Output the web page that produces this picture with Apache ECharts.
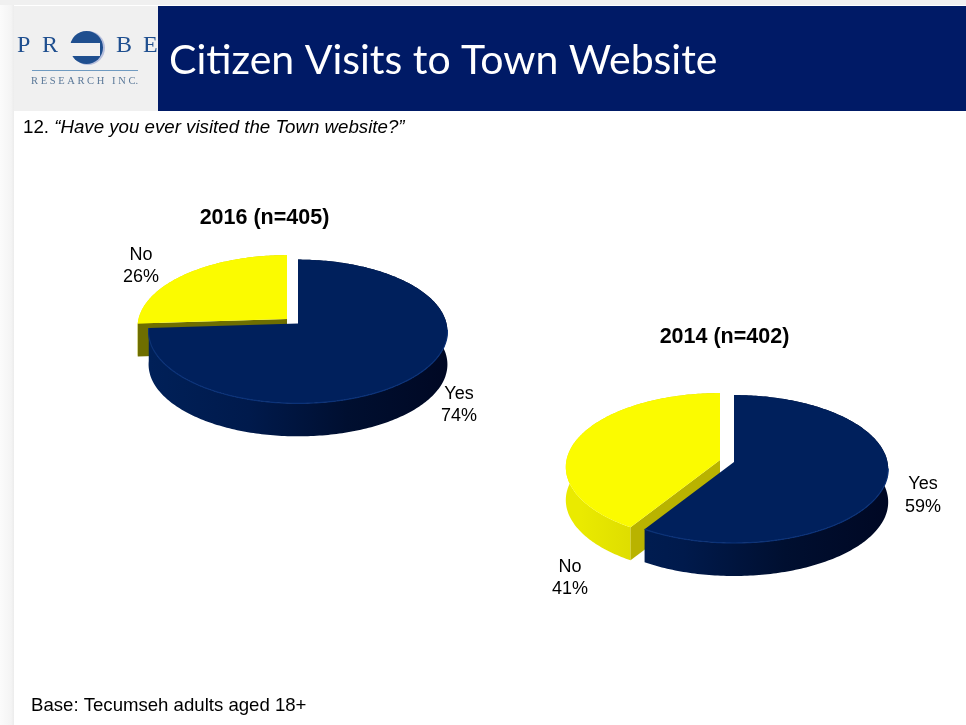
<!DOCTYPE html>
<html>
<head>
<meta charset="utf-8">
<style>html,body{margin:0;padding:0;background:#fff}#c{width:966px;height:725px}</style>
<script src="https://cdn.jsdelivr.net/npm/echarts@6/dist/echarts.min.js"></script>
</head>
<body>
<div id="c"></div>
<script>
var categories = ['Yes', 'No'];
var values2016 = [74, 26];
var values2014 = [59, 41];
var pieTitles = ['2016 (n=405)', '2014 (n=402)'];
var pageTitle = 'Citizen Visits to Town Website';
var question = '12. ';
var questionText = '\u201CHave you ever visited the Town website?\u201D';
var baseNote = 'Base: Tecumseh adults aged 18+';

var NAVY = '#00205c', YELLOW = '#fbfb00';
var pies = [
  { values: values2016, cx: 298, cy: 323.5, rx: 148.5, ry: 71, k: 0.111, depth: 33,
    shift: [[0, 0], [-11, -4.5]], innerWall: '#6e6e00',
    labels: [[459, 405], [141, 266]], titleX: 259.5, titleY: 213 },
  { values: values2014, cx: 734, cy: 462, rx: 153.5, ry: 73.3, k: 0.095, depth: 33,
    shift: [[0, 0], [-14, -2]], innerWall: '#b9b300',
    labels: [[923, 495.5], [570, 578]], titleX: 719.5, titleY: 332 }
];

function proj(p, shift, deg, r) {
  var a = deg * Math.PI / 180, u = r * Math.sin(a), v = r * Math.cos(a), s = 1 / (1 + p.k * v);
  return [p.cx + shift[0] + p.rx * u * s, p.cy + shift[1] - p.ry * v * s];
}
function arc(p, shift, a0, a1, dy) {
  var pts = [], n = Math.max(2, Math.ceil(Math.abs(a1 - a0)));
  for (var i = 0; i <= n; i++) {
    var q = proj(p, shift, a0 + (a1 - a0) * i / n, 1);
    pts.push([q[0], q[1] + dy]);
  }
  return pts;
}
function hGrad(x0, x1, stops) {
  return new echarts.graphic.LinearGradient(x0, 0, x1, 0, stops.map(function (c, i) {
    return { offset: i / (stops.length - 1), color: c };
  }), true);
}
function renderSlice(p, idx) {
  var total = p.values[0] + p.values[1];
  var start = idx === 0 ? 0 : p.values[0] / total * 360;
  var end = idx === 0 ? p.values[0] / total * 360 : 360;
  var sh = p.shift[idx];
  var top = arc(p, sh, start, end, 0);
  var low = arc(p, sh, start, end, p.depth);
  var apex = proj(p, sh, 0, 0);
  var x0 = p.cx - p.rx, x1 = p.cx + p.rx;
  var wallFill = idx === 0
    ? hGrad(x0, x1, ['#002058', '#001a4c', '#000f30', '#000824'])
    : hGrad(x0, x1 - p.rx * 0.7, ['#eaea00', '#bdb800']);
  var children = [];
  // outer wall
  children.push({ type: 'polygon', shape: { points: top.concat(low.slice().reverse()) }, style: { fill: wallFill } });
  // the cut wall of the exploded slice faces the viewer
  if (idx === 1) {
    var e = proj(p, sh, start, 1);
    children.push({ type: 'polygon', shape: { points: [apex, e, [e[0], e[1] + p.depth], [apex[0], apex[1] + p.depth]] },
      style: { fill: p.innerWall } });
  }
  // top face
  children.push({ type: 'polygon', shape: { points: [apex].concat(top) }, style: { fill: idx === 0 ? NAVY : YELLOW } });
  // front bevel highlight
  if (idx === 0) {
    var from = Math.max(start, 95), to = end;
    children.push({ type: 'polyline', shape: { points: arc(p, sh, from, to, 0) },
      style: { fill: null, stroke: '#0b3278', lineWidth: 1.2 } });
  }
  // label
  children.push({ type: 'text', style: {
    x: p.labels[idx][0], y: p.labels[idx][1], text: categories[idx] + '\n' + p.values[idx] + '%',
    font: '18px "Liberation Sans"', fill: '#000', align: 'center', verticalAlign: 'middle', lineHeight: 22.5 } });
  return { type: 'group', children: children };
}
function pieSeries(p) {
  return {
    type: 'custom', coordinateSystem: 'none', silent: true, animation: false,
    // drawn back to front: the exploded No slice first, then Yes
    data: [{ name: categories[1], value: [1, p.values[1]] }, { name: categories[0], value: [0, p.values[0]] }],
    renderItem: function (params, api) { return renderSlice(p, api.value(0)); }
  };
}
var logoBlue = '#1f4f8f';
function logoLetter(t, x) {
  return { type: 'text', left: x, top: 34, style: { text: t, font: '24px "Liberation Serif"', fill: logoBlue } };
}
var chart = echarts.init(document.getElementById('c'), null, { renderer: 'canvas' });
chart.setOption({
  backgroundColor: '#ffffff',
  animation: false,
  title: pies.map(function (p, i) {
    return { text: pieTitles[i], left: p.titleX, top: p.titleY, textAlign: 'center', textVerticalAlign: 'middle',
      textStyle: { fontFamily: 'Liberation Sans', fontSize: 21.5, fontWeight: 'bold', color: '#000' } };
  }),
  graphic: [
    { type: 'rect', left: 0, top: 0, z: -5, shape: { width: 14, height: 725 },
      style: { fill: new echarts.graphic.LinearGradient(0, 0, 1, 0, [{ offset: 0, color: '#fbfbfb' }, { offset: 0.8, color: '#f4f4f4' }, { offset: 1, color: '#ececec' }]) } },
    { type: 'rect', left: 0, top: 0, z: -5, shape: { width: 966, height: 5 }, style: { fill: '#f0f0f0' } },
    { type: 'rect', left: 14, top: 6, z: -4, shape: { width: 144, height: 105 }, style: { fill: '#f0f0f0' } },
    { type: 'rect', left: 158, top: 6, z: -4, shape: { width: 808, height: 105 }, style: { fill: '#001a66' } },
    { type: 'text', left: 169, top: 40, style: { text: pageTitle, font: '41px Lato', fill: '#fff' } },
    // logo
    logoLetter('P', 17), logoLetter('R', 42), logoLetter('B', 116), logoLetter('E', 143),
    { type: 'circle', left: 71, top: 31, shape: { r: 17 }, style: { fill: '#b7bfdc' } },
    { type: 'circle', left: 70, top: 31, shape: { r: 16.5 }, style: { fill: logoBlue } },
    { type: 'rect', left: 68, top: 43, shape: { width: 32, height: 13 }, style: { fill: '#f0f0f0' } },
    { type: 'rect', left: 32, top: 70, shape: { width: 106, height: 1 }, style: { fill: '#6f9ac0' } },
    { type: 'text', left: 31, top: 76, style: { text: 'R E S E A R C H   I N C.', font: '10.5px "Liberation Serif"', fill: '#5a7898' } },
    // question
    { type: 'text', left: 23, top: 118, style: {
      text: '{a|' + question + '}{b|' + questionText + '}',
      rich: { a: { font: '18.7px "Liberation Sans"', fill: '#000' }, b: { font: 'italic 18.7px "Liberation Sans"', fill: '#000' } } } },
    { type: 'text', left: 31, top: 696, style: { text: baseNote, font: '18.6px "Liberation Sans"', fill: '#000' } }
  ],
  series: pies.map(pieSeries)
});
</script>
</body>
</html>
